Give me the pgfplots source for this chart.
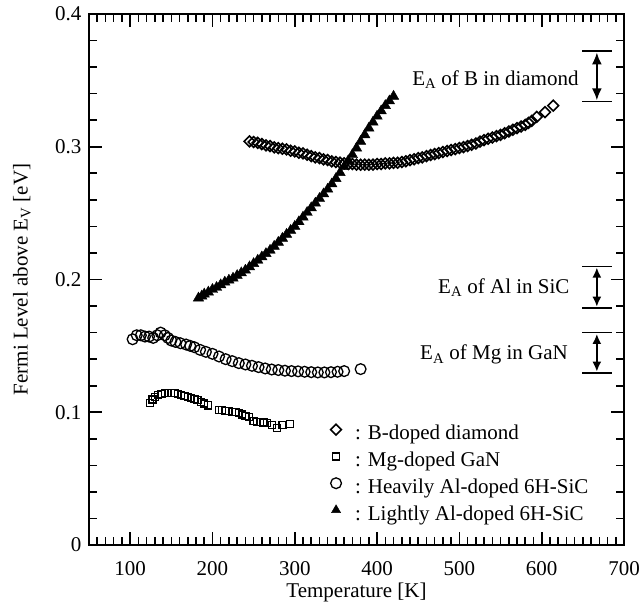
\documentclass[border=0pt]{standalone}
\usepackage{pgfplots}
\pgfplotsset{compat=1.18}
\usepackage{fontspec}
\setmainfont{Liberation Serif}
\usetikzlibrary{arrows.meta}

\begin{document}
\begin{tikzpicture}[font=\fontsize{21}{25}\selectfont]
\useasboundingbox (-89pt,-63pt) rectangle (555pt,545pt);
\begin{axis}[
  at={(0pt,0pt)}, anchor=south west,
  scale only axis,
  width=535pt, height=531pt,
  xmin=50, xmax=700, ymin=0, ymax=0.4,
  xtick={100,200,300,400,500,600,700},
  xticklabels={100,200,300,400,500,600,700},
  ytick={0,0.1,0.2,0.3,0.4},
  yticklabels={0,0.1,0.2,0.3,0.4},
  major tick length=0pt,
  tick style={draw=none},
  axis line style={line width=2.2pt},
  ticklabel style={font=\fontsize{21}{25}\selectfont},
  xticklabel style={anchor=north, yshift=-13pt},
  yticklabel style={anchor=east, xshift=-4pt},
  xlabel={Temperature [K]},
  ylabel={Fermi Level above E\textsubscript{V} [eV]},
  every axis x label/.style={at={([yshift=-52pt]axis description cs:0.5,0)}, anchor=base},
  every axis y label/.style={at={([xshift=-67pt]axis description cs:0,0.5)}, rotate=90, anchor=center},
  clip=false,
  legend cell align=left,
  legend style={draw=none, fill=none, at={(axis cs:339,0.093)}, anchor=north west,
    row sep=4.8pt, font=\fontsize{21}{25}\selectfont,
    nodes={inner sep=1pt, text height=15pt, text depth=5pt}},
  legend image code/.code={\path[draw=none, fill=none] (0pt,0.18cm) -- (24pt,0.18cm); \draw[#1, only marks] plot coordinates {(6pt,0.18cm)};},
]
% tick marks (inside, all four sides)
\draw[line width=1.6pt] foreach \t in {60,70,...,690} {(axis cs:\t,0) -- ++(0pt,8pt)};
\draw[line width=1.6pt] foreach \t in {60,70,...,690} {(axis cs:\t,0.4) -- ++(0pt,-8pt)};
\draw[line width=1.7pt] foreach \t in {100,200,...,600} {(axis cs:\t,0) -- ++(0pt,13pt)};
\draw[line width=1.7pt] foreach \t in {100,200,...,600} {(axis cs:\t,0.4) -- ++(0pt,-13pt)};
\draw[line width=1.6pt] foreach \t in {0.02,0.04,0.06,0.08,0.12,0.14,0.16,0.18,0.22,0.24,0.26,0.28,0.32,0.34,0.36,0.38} {(axis cs:50,\t) -- ++(8pt,0pt)};
\draw[line width=1.6pt] foreach \t in {0.02,0.04,0.06,0.08,0.12,0.14,0.16,0.18,0.22,0.24,0.26,0.28,0.32,0.34,0.36,0.38} {(axis cs:700,\t) -- ++(-8pt,0pt)};
\draw[line width=1.7pt] foreach \t in {0.1,0.2,0.3} {(axis cs:50,\t) -- ++(13pt,0pt)};
\draw[line width=1.7pt] foreach \t in {0.1,0.2,0.3} {(axis cs:700,\t) -- ++(-13pt,0pt)};
% Lightly Al-doped 6H-SiC (triangles)
\addplot[only marks, mark=triangle*, mark size=6pt, black, forget plot] coordinates {
(183,0.186)(187,0.1875)(190,0.189)(195,0.1905)(200,0.1925)(205,0.194)(210,0.196)(215,0.198)(220,0.1995)(225,0.201)
(230,0.203)(235,0.205)(240,0.207)(245,0.2095)(250,0.212)(255,0.2145)(260,0.217)(265,0.2195)(270,0.222)(275,0.225)
(280,0.228)(285,0.231)(290,0.234)(295,0.237)(300,0.240)(305,0.2435)(310,0.247)(315,0.2505)(320,0.254)(325,0.2575)
(330,0.261)(335,0.2645)(340,0.268)(345,0.272)(350,0.276)(355,0.2805)(360,0.285)(365,0.2895)(370,0.294)(375,0.299)
(380,0.304)(385,0.309)(390,0.314)(395,0.3185)(400,0.323)(405,0.327)(410,0.331)(415,0.3345)(420,0.338)
};
% B-doped diamond
\addplot[only marks, mark=square, mark options={rotate=45, fill=white, line width=1.6pt}, mark size=3.8pt, black] coordinates {
(245,0.304)(250,0.3035)(255,0.303)(260,0.302)(265,0.301)(270,0.3005)(275,0.2995)(280,0.299)(285,0.2985)(290,0.298)
(295,0.297)(300,0.2965)(305,0.2955)(310,0.295)(315,0.294)(320,0.293)(325,0.292)(330,0.2915)(335,0.2905)(340,0.290)
(345,0.289)(350,0.2885)(355,0.288)(360,0.2875)(365,0.287)(370,0.287)(375,0.2865)(380,0.2865)(385,0.2865)(390,0.2865)
(395,0.2865)(400,0.287)(405,0.287)(410,0.2875)(415,0.2875)(420,0.2878)(425,0.288)(430,0.2885)(435,0.289)(440,0.290)
(445,0.2905)(450,0.2915)(455,0.292)(460,0.293)(465,0.2938)(470,0.2945)(475,0.2952)(480,0.296)(485,0.2968)(490,0.2975)
(495,0.2982)(500,0.299)(505,0.2998)(510,0.3005)(515,0.3015)(520,0.3025)(525,0.3038)(530,0.305)(535,0.306)(540,0.307)
(545,0.308)(550,0.309)(555,0.3102)(560,0.3115)(565,0.3128)(570,0.314)(575,0.3152)(580,0.3165)(584,0.318)(588,0.3195)
(594,0.3225)(604,0.326)(614,0.331)
};
\addlegendentry{: B-doped diamond}
% Mg-doped GaN
\addplot[only marks, mark=square, mark options={fill=white, line width=1.3pt}, mark size=3.5pt, black] coordinates {
(124,0.107)(127,0.1095)(130,0.1115)(134,0.1128)(138,0.1138)(142,0.1143)(146,0.1145)(150,0.1145)(154,0.1143)(158,0.1140)
(162,0.1132)(166,0.1124)(170,0.1117)(174,0.1110)(178,0.1100)(182,0.1090)(186,0.1078)(190,0.1066)(195,0.1052)
(208,0.1017)(212,0.1015)(216,0.1012)(220,0.1008)(224,0.1004)(228,0.1000)(232,0.0993)(236,0.0982)(240,0.0972)(244,0.0965)
(250,0.0935)(254,0.0927)(258,0.0925)(262,0.0922)(266,0.0920)(272,0.0905)(278,0.0880)(285,0.0905)(294,0.0910)
};
\addlegendentry{: Mg-doped GaN}
% Heavily Al-doped 6H-SiC
\addplot[only marks, mark=o, mark options={fill=white, line width=1.3pt}, mark size=5.4pt, black] coordinates {
(103,0.155)(108,0.158)(113,0.158)(118,0.157)(123,0.157)(128,0.156)(133,0.158)(137,0.160)(142,0.158)(146,0.156)
(150,0.154)(155,0.153)(161,0.152)(168,0.151)(173,0.150)(178,0.149)(185,0.147)(192,0.1455)(200,0.144)(208,0.142)
(216,0.140)(224,0.1385)(232,0.137)(240,0.136)(248,0.135)(256,0.134)(264,0.133)(272,0.1322)(280,0.1318)(288,0.1313)
(296,0.131)(304,0.1308)(312,0.1305)(320,0.1302)(328,0.1300)(336,0.1300)(344,0.1302)(352,0.1305)(360,0.131)(380,0.1325)
};
\addlegendentry{: Heavily Al-doped 6H-SiC}
\addlegendimage{only marks, mark=triangle*, mark size=5.3pt, black}
\addlegendentry{: Lightly Al-doped 6H-SiC}

% activation energy brackets
\draw[line width=1.4pt] (axis cs:649,0.372) -- (axis cs:686,0.372);
\draw[line width=1.4pt] (axis cs:649,0.334) -- (axis cs:686,0.334);
\draw[line width=1.8pt, {Latex[length=12pt,width=10pt]}-{Latex[length=12pt,width=10pt]}] (axis cs:667,0.371) -- (axis cs:667,0.335);
\node[anchor=base east, inner sep=0pt] at (axis cs:645,0.3465) {E\textsubscript{A} of B in diamond};

\draw[line width=1.4pt] (axis cs:649,0.210) -- (axis cs:686,0.210);
\draw[line width=1.4pt] (axis cs:649,0.1785) -- (axis cs:686,0.1785);
\draw[line width=1.8pt, {Latex[length=10pt,width=9pt]}-{Latex[length=10pt,width=9pt]}] (axis cs:667,0.209) -- (axis cs:667,0.1795);
\node[anchor=base east, inner sep=0pt] at (axis cs:634,0.1898) {E\textsubscript{A} of Al in SiC};

\draw[line width=1.4pt] (axis cs:649,0.160) -- (axis cs:686,0.160);
\draw[line width=1.4pt] (axis cs:649,0.1296) -- (axis cs:686,0.1296);
\draw[line width=1.8pt, {Latex[length=10pt,width=9pt]}-{Latex[length=10pt,width=9pt]}] (axis cs:667,0.159) -- (axis cs:667,0.1306);
\node[anchor=base east, inner sep=0pt] at (axis cs:632,0.1394) {E\textsubscript{A} of Mg in GaN};
\end{axis}
\end{tikzpicture}
\end{document}
